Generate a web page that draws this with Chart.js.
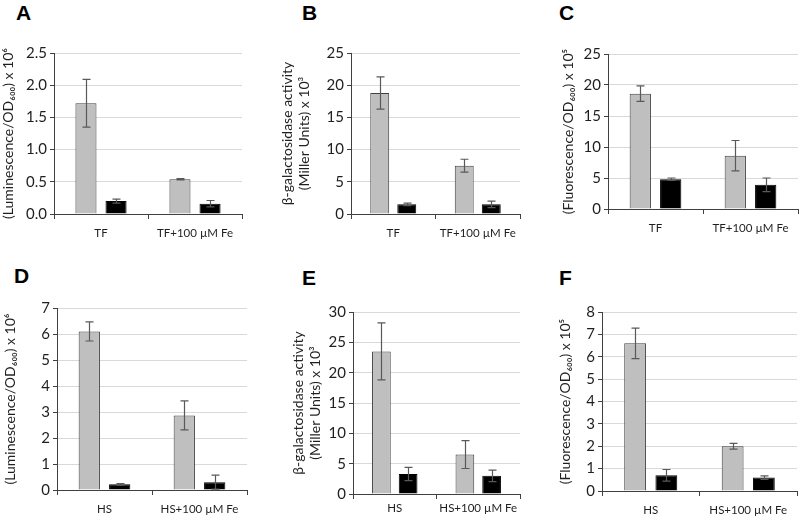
<!DOCTYPE html>
<html>
<head>
<meta charset="utf-8">
<script src="https://cdn.jsdelivr.net/npm/chart.js@4/dist/chart.umd.min.js"></script>
<style>
  body { margin: 0; background: #fff; }
  #wrap { position: relative; width: 800px; height: 516px; overflow: hidden; }
  canvas { position: absolute; }
  .lbl { position: absolute; font: bold 21px "Liberation Sans", Arial, sans-serif; color: #000; }
</style>
</head>
<body>
<div id="wrap"></div>
<script>
// categories
const groupsTF = ["TF", "TF+100 µM Fe"];
const groupsHS = ["HS", "HS+100 µM Fe"];

// A: luminescence, TF
const lumTFGray = [1.72, 0.54];
const lumTFGrayErr = [0.37, 0.01];
const lumTFBlack = [0.20, 0.16];
const lumTFBlackErr = [0.03, 0.05];

// B: beta-galactosidase, TF
const galTFGray = [18.8, 7.5];
const galTFGrayErr = [2.5, 1.0];
const galTFBlack = [1.5, 1.5];
const galTFBlackErr = [0.2, 0.5];

// C: fluorescence, TF
const fluTFGray = [18.6, 8.6];
const fluTFGrayErr = [1.25, 2.45];
const fluTFBlack = [4.8, 3.9];
const fluTFBlackErr = [0.2, 1.1];

// D: luminescence, HS
const lumHSGray = [6.1, 2.87];
const lumHSGrayErr = [0.37, 0.56];
const lumHSBlack = [0.22, 0.3];
const lumHSBlackErr = [0.03, 0.27];

// E: beta-galactosidase, HS
const galHSGray = [23.5, 6.5];
const galHSGrayErr = [4.7, 2.3];
const galHSBlack = [3.3, 3.0];
const galHSBlackErr = [1.1, 0.95];

// F: fluorescence, HS
const fluHSGray = [6.6, 2.0];
const fluHSGrayErr = [0.68, 0.13];
const fluHSBlack = [0.7, 0.6];
const fluHSBlackErr = [0.26, 0.08];

const lumTitle = "(Luminescence/OD₆₀₀) x 10⁶";
const galTitle = ["β-galactosidase activity", "(Miller Units) x 10³"];
const fluTitle = "(Fluorescence/OD₆₀₀) x 10⁵";

const FONT = "Lato";
const TEXT = "#1f1f1f";
const AXIS = "#404040";

// error bars drawn on top of the bars
const errorBars = {
  id: "errorBars",
  afterDatasetsDraw(chart) {
    const ctx = chart.ctx;
    const y = chart.scales.y;
    ctx.save();
    ctx.strokeStyle = "#595959";
    ctx.lineWidth = 1.2;
    chart.data.datasets.forEach((ds, di) => {
      const meta = chart.getDatasetMeta(di);
      meta.data.forEach((bar, i) => {
        const v = ds.data[i], e = ds.errors[i];
        const top = y.getPixelForValue(v + e);
        const bot = y.getPixelForValue(Math.max(v - e, 0));
        const x = Math.round(bar.x) + 0.5;
        ctx.beginPath();
        ctx.moveTo(x, top); ctx.lineTo(x, bot);
        ctx.moveTo(x - 4, top); ctx.lineTo(x + 4, top);
        ctx.moveTo(x - 4, bot); ctx.lineTo(x + 4, bot);
        ctx.stroke();
      });
    });
    ctx.restore();
  }
};

const panels = [
  { letter: "A", lx: 16, ly: 1, box: [0, 40, 262, 200], yw: 54, xh: 26, pad: [13, 20], xpad: 7, tpad: 0,
    labels: groupsTF, gray: lumTFGray, grayErr: lumTFGrayErr, black: lumTFBlack, blackErr: lumTFBlackErr,
    max: 2.5, step: 0.5, dec: 1, title: lumTitle },
  { letter: "B", lx: 302, ly: 1, box: [265, 40, 270, 200], yw: 86, xh: 26, pad: [13, 15], xpad: 7, tpad: 14,
    labels: groupsTF, gray: galTFGray, grayErr: galTFGrayErr, black: galTFBlack, blackErr: galTFBlackErr,
    max: 25, step: 5, dec: 0, title: galTitle },
  { letter: "C", lx: 559, ly: 1, box: [535, 40, 265, 200], yw: 73, xh: 31, pad: [14, 2], xpad: 7, tpad: 25,
    labels: groupsTF, gray: fluTFGray, grayErr: fluTFGrayErr, black: fluTFBlack, blackErr: fluTFBlackErr,
    max: 25, step: 5, dec: 0, title: fluTitle },
  { letter: "D", lx: 14, ly: 264, box: [0, 295, 265, 221], yw: 57, xh: 26, pad: [13, 18], xpad: 7, tpad: 2,
    labels: groupsHS, gray: lumHSGray, grayErr: lumHSGrayErr, black: lumHSBlack, blackErr: lumHSBlackErr,
    max: 7, step: 1, dec: 0, title: lumTitle },
  { letter: "E", lx: 302, ly: 266, box: [265, 298, 270, 218], yw: 88, xh: 22, pad: [14, 15], xpad: 2, tpad: 25,
    labels: groupsHS, gray: galHSGray, grayErr: galHSGrayErr, black: galHSBlack, blackErr: galHSBlackErr,
    max: 30, step: 5, dec: 0, title: galTitle },
  { letter: "F", lx: 559, ly: 266, box: [535, 298, 265, 218], yw: 67, xh: 25, pad: [14, 3], xpad: 7, tpad: 22,
    labels: groupsHS, gray: fluHSGray, grayErr: fluHSGrayErr, black: fluHSBlack, blackErr: fluHSBlackErr,
    max: 8, step: 1, dec: 0, title: fluTitle }
];

const wrap = document.getElementById("wrap");

panels.forEach((p) => {
  const [bx, by, bw, bh] = p.box;
  const canvas = document.createElement("canvas");
  canvas.width = bw; canvas.height = bh;
  canvas.style.left = bx + "px"; canvas.style.top = by + "px";
  canvas.style.width = bw + "px"; canvas.style.height = bh + "px";
  wrap.appendChild(canvas);

  const letter = document.createElement("div");
  letter.className = "lbl";
  letter.textContent = p.letter;
  letter.style.left = p.lx + "px"; letter.style.top = p.ly + "px";
  wrap.appendChild(letter);

  new Chart(canvas.getContext("2d"), {
    type: "bar",
    data: {
      labels: p.labels,
      datasets: [
        { data: p.gray, errors: p.grayErr, backgroundColor: "#bfbfbf", borderColor: "#404040", borderWidth: 1 },
        { data: p.black, errors: p.blackErr, backgroundColor: "#000000", borderColor: "#000000", borderWidth: 1 }
      ]
    },
    options: {
      responsive: false,
      animation: false,
      devicePixelRatio: 1,
      categoryPercentage: 0.64,
      barPercentage: 0.7,
      layout: { padding: { top: p.pad[0], right: p.pad[1], left: 0, bottom: 0 } },
      plugins: { legend: { display: false }, tooltip: { enabled: false } },
      scales: {
        x: {
          grid: { offset: true, drawOnChartArea: false, tickLength: 5, tickColor: AXIS },
          border: { color: AXIS, width: 1 },
          ticks: { color: TEXT, font: { family: FONT, size: 11.5 }, padding: p.xpad, maxRotation: 0, autoSkip: false },
          afterFit: (s) => { s.height = p.xh; }
        },
        y: {
          min: 0, max: p.max,
          grid: { color: "#d9d9d9", tickLength: 4, tickColor: AXIS },
          border: { color: AXIS, width: 1 },
          ticks: {
            stepSize: p.step, color: TEXT, padding: 3,
            font: { family: FONT, size: 15 },
            callback: (v) => Number(v).toFixed(p.dec)
          },
          title: { display: true, text: p.title, color: TEXT, font: { family: FONT, size: 14 }, padding: { top: p.tpad, bottom: 0 } },
          afterFit: (s) => { s.width = p.yw; }
        }
      }
    },
    plugins: [errorBars]
  });
});
</script>
</body>
</html>
